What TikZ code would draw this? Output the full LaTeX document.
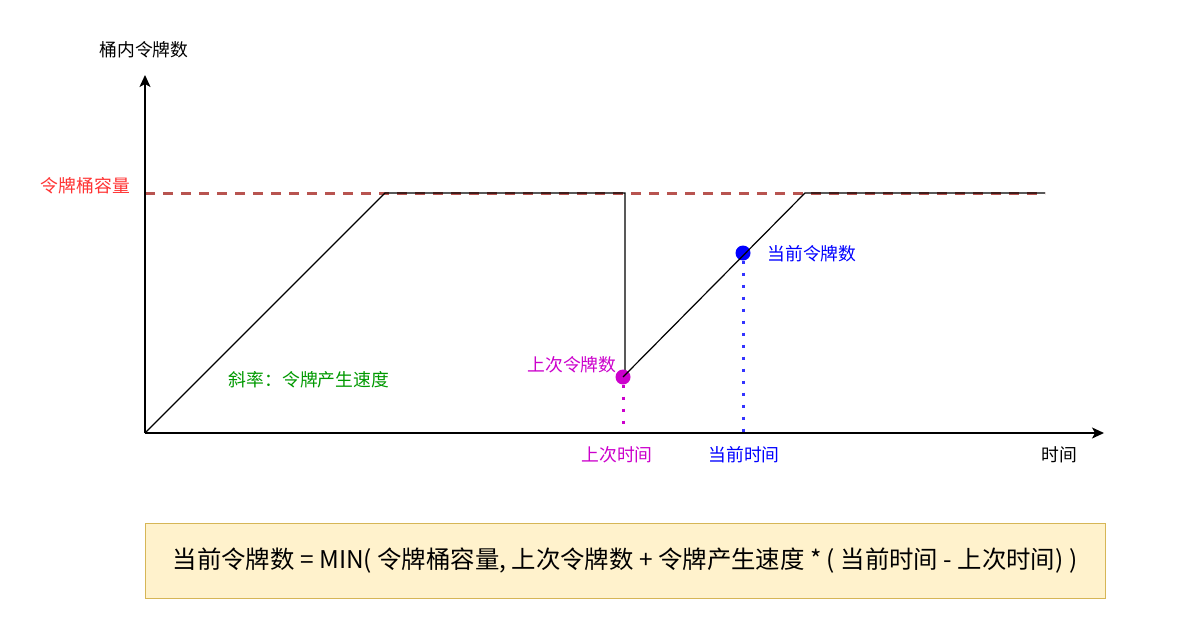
\documentclass[tikz,border=0pt]{standalone}
\usepackage{fontspec}
\setmainfont{Noto Sans CJK SC}
\usetikzlibrary{arrows.meta}
\definecolor{capred}{HTML}{B85450}
\definecolor{lblred}{HTML}{FF3333}
\definecolor{lblgreen}{HTML}{009900}
\definecolor{lblmag}{HTML}{CC00CC}
\definecolor{lblblue}{HTML}{0000FF}
\definecolor{dotblue}{HTML}{3333FF}
\definecolor{boxfill}{HTML}{FFF2CC}
\definecolor{boxdraw}{HTML}{D6B656}
\begin{document}
\begin{tikzpicture}[x=1pt,y=-1pt,
  lbl/.style={inner sep=0pt, font=\fontsize{17.8}{20}\selectfont},
  axis/.style={line width=1.5pt, -{Stealth[length=12pt,width=11pt,inset=3pt]}},
  curve/.style={line width=1.2pt, black},
  capline/.style={line width=3pt, capred, dash pattern=on 10pt off 8pt},
  dotline/.style={line width=3pt, dash pattern=on 3pt off 9pt},
  marker/.style={circle, inner sep=0pt, minimum size=15pt}]
\useasboundingbox (0,0) rectangle (1198,637);
\fill[white] (0,0) rectangle (1198,637);

% key points
\coordinate (O) at (145,433);
\coordinate (ytip) at (145,75);
\coordinate (xtip) at (1104,433);
\coordinate (capL) at (145,193);
\coordinate (capR) at (1045,193);
\coordinate (p1) at (385,193);
\coordinate (p2) at (625,193);
\coordinate (p3) at (625,375);
\coordinate (p4) at (805,193);
\coordinate (p5) at (1045,193);
\coordinate (tlast) at (623,433);
\coordinate (tnow) at (743,433);

% capacity dashed line
\draw[capline] (capL) -- (capR);

% token curve
\draw[curve] (O) -- (p1) -- (p2) -- (p3);
\node[marker, fill=lblmag] (lastdot) at (623,377) {};
\node[marker, fill=lblblue] (nowdot) at (743,253) {};
\draw[curve] (lastdot.center) -- (p4) -- (p5);

% dotted drops
\draw[dotline, lblmag] (lastdot.south) -- (tlast);
\draw[dotline, dotblue] (nowdot.south) -- (tnow);

% axes
\draw[axis] (O) -- (ytip);
\draw[axis] (O) -- (xtip);

% labels
\node[lbl] (ylabel) at (144,50) {桶内令牌数};
\node[lbl, text=lblred, anchor=east] (caplabel) at (130,186) {令牌桶容量};
\node[lbl, text=lblgreen] (slope) at (309,380) {斜率：令牌产生速度};
\node[lbl, text=lblmag] (lastlabel) at (572,365) {上次令牌数};
\node[lbl, text=lblblue] (nowlabel) at (812,254) {当前令牌数};
\node[lbl, text=lblmag] (tlastlabel) at (617,455) {上次时间};
\node[lbl, text=lblblue] (tnowlabel) at (744,455) {当前时间};
\node[lbl] (xlabel) at (1059,455) {时间};

% formula box
\node[draw=boxdraw, fill=boxfill, line width=1pt, minimum width=960pt, minimum height=75pt, inner sep=0pt,
  font=\fontsize{24.4}{27}\selectfont] (formula) at (625,560.5)
  {当前令牌数 = MIN( 令牌桶容量, 上次令牌数 + 令牌产生速度 * ( 当前时间 - 上次时间) )};
\end{tikzpicture}
\end{document}
